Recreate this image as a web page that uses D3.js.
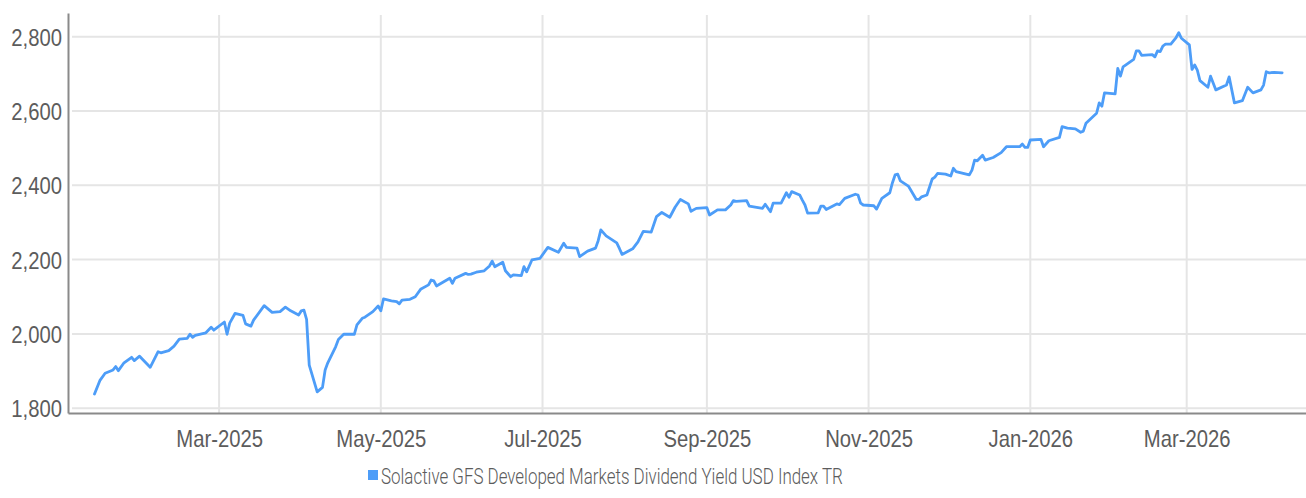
<!DOCTYPE html>
<html>
<head>
<meta charset="utf-8">
<script src="https://cdn.jsdelivr.net/npm/d3@7"></script>
<style>
  html, body { margin: 0; padding: 0; background: #fff; }
  svg { display: block; font-family: "Roboto", "Liberation Sans", sans-serif; font-weight: 300; }
</style>
</head>
<body>
<div id="chart"></div>
<script>
const seriesName = "Solactive GFS Developed Markets Dividend Yield USD Index TR";

const dates = [
  "2025-01-13", "2025-01-15", "2025-01-17", "2025-01-20", "2025-01-21", "2025-01-22", "2025-01-24",
  "2025-01-27", "2025-01-28", "2025-01-30", "2025-02-03", "2025-02-06", "2025-02-07", "2025-02-10",
  "2025-02-12", "2025-02-14", "2025-02-17", "2025-02-18", "2025-02-19", "2025-02-20", "2025-02-24",
  "2025-02-26", "2025-02-27", "2025-03-03", "2025-03-04", "2025-03-05", "2025-03-07", "2025-03-10",
  "2025-03-11", "2025-03-13", "2025-03-14", "2025-03-18", "2025-03-21", "2025-03-24", "2025-03-26",
  "2025-03-28", "2025-03-31", "2025-04-01", "2025-04-02", "2025-04-03", "2025-04-04", "2025-04-07",
  "2025-04-09", "2025-04-10", "2025-04-11", "2025-04-14", "2025-04-15", "2025-04-17", "2025-04-21",
  "2025-04-22", "2025-04-24", "2025-04-25", "2025-04-28", "2025-04-30", "2025-05-01", "2025-05-02",
  "2025-05-05", "2025-05-07", "2025-05-08", "2025-05-09", "2025-05-12", "2025-05-14", "2025-05-16",
  "2025-05-19", "2025-05-20", "2025-05-21", "2025-05-22", "2025-05-27", "2025-05-28", "2025-05-29",
  "2025-06-02", "2025-06-03", "2025-06-04", "2025-06-06", "2025-06-09", "2025-06-11", "2025-06-12",
  "2025-06-13", "2025-06-16", "2025-06-17", "2025-06-19", "2025-06-20", "2025-06-23", "2025-06-24",
  "2025-06-25", "2025-06-27", "2025-06-30", "2025-07-03", "2025-07-07", "2025-07-09", "2025-07-10",
  "2025-07-14", "2025-07-15", "2025-07-18", "2025-07-21", "2025-07-22", "2025-07-23", "2025-07-25",
  "2025-07-29", "2025-07-30", "2025-07-31", "2025-08-04", "2025-08-06", "2025-08-08", "2025-08-11",
  "2025-08-13", "2025-08-15", "2025-08-18", "2025-08-20", "2025-08-22", "2025-08-25", "2025-08-26",
  "2025-08-28", "2025-09-01", "2025-09-02", "2025-09-05", "2025-09-08", "2025-09-10", "2025-09-11",
  "2025-09-12", "2025-09-16", "2025-09-17", "2025-09-22", "2025-09-23", "2025-09-25", "2025-09-26",
  "2025-09-29", "2025-10-01", "2025-10-02", "2025-10-03", "2025-10-06", "2025-10-07", "2025-10-08",
  "2025-10-09", "2025-10-13", "2025-10-14", "2025-10-15", "2025-10-16", "2025-10-20", "2025-10-21",
  "2025-10-23", "2025-10-27", "2025-10-28", "2025-10-29", "2025-10-30", "2025-11-03", "2025-11-04",
  "2025-11-06", "2025-11-09", "2025-11-10", "2025-11-11", "2025-11-12", "2025-11-13", "2025-11-16",
  "2025-11-19", "2025-11-20", "2025-11-21", "2025-11-23", "2025-11-25", "2025-11-26", "2025-11-27",
  "2025-11-30", "2025-12-02", "2025-12-03", "2025-12-04", "2025-12-09", "2025-12-10", "2025-12-11",
  "2025-12-12", "2025-12-14", "2025-12-15", "2025-12-18", "2025-12-21", "2025-12-23", "2025-12-28",
  "2025-12-29", "2025-12-30", "2025-12-31", "2026-01-01", "2026-01-05", "2026-01-06", "2026-01-08",
  "2026-01-12", "2026-01-13", "2026-01-15", "2026-01-18", "2026-01-20", "2026-01-21", "2026-01-22",
  "2026-01-23", "2026-01-26", "2026-01-27", "2026-01-28", "2026-01-29", "2026-02-02", "2026-02-03",
  "2026-02-04", "2026-02-05", "2026-02-09", "2026-02-10", "2026-02-11", "2026-02-12", "2026-02-16",
  "2026-02-17", "2026-02-18", "2026-02-19", "2026-02-20", "2026-02-21", "2026-02-23", "2026-02-24",
  "2026-02-25", "2026-02-26", "2026-02-27", "2026-03-02", "2026-03-03", "2026-03-04", "2026-03-05",
  "2026-03-06", "2026-03-09", "2026-03-10", "2026-03-12", "2026-03-16", "2026-03-17", "2026-03-19",
  "2026-03-22", "2026-03-24", "2026-03-26", "2026-03-29", "2026-03-30", "2026-03-31", "2026-04-01",
  "2026-04-03", "2026-04-06"
];

const values = [
  1838, 1874, 1894, 1903, 1912, 1901, 1921,
  1937, 1928, 1940, 1910, 1952, 1949, 1955,
  1967, 1986, 1988, 1999, 1991, 1996, 2003,
  2018, 2010, 2032, 1999, 2029, 2055, 2050,
  2027, 2021, 2037, 2076, 2058, 2060, 2072,
  2062, 2051, 2062, 2064, 2039, 1916, 1844,
  1856, 1903, 1922, 1966, 1985, 1999, 1999,
  2024, 2042, 2045, 2060, 2075, 2062, 2094,
  2089, 2087, 2081, 2091, 2093, 2100, 2120,
  2132, 2145, 2143, 2129, 2150, 2136, 2150,
  2163, 2160, 2161, 2166, 2170, 2183, 2196,
  2181, 2193, 2170, 2154, 2159, 2157, 2181,
  2167, 2199, 2203, 2233, 2220, 2244, 2233,
  2231, 2208, 2223, 2231, 2251, 2280, 2264,
  2245, 2230, 2214, 2229, 2248, 2276, 2274,
  2316, 2327, 2314, 2341, 2362, 2350, 2330,
  2338, 2340, 2320, 2334, 2334, 2347, 2359,
  2357, 2359, 2344, 2338, 2349, 2329, 2352,
  2352, 2380, 2368, 2383, 2374, 2360, 2347,
  2325, 2326, 2344, 2344, 2335, 2350, 2348,
  2365, 2376, 2374, 2352, 2347, 2345, 2336,
  2365, 2380, 2407, 2428, 2430, 2412, 2398,
  2362, 2362, 2369, 2374, 2417, 2422, 2432,
  2430, 2425, 2446, 2437, 2428, 2441, 2468,
  2466, 2481, 2468, 2475, 2488, 2504, 2504,
  2511, 2502, 2502, 2522, 2524, 2504, 2520,
  2529, 2558, 2554, 2552, 2543, 2546, 2567,
  2574, 2594, 2622, 2613, 2649, 2646, 2715,
  2694, 2719, 2739, 2762, 2762, 2750, 2752,
  2746, 2762, 2760, 2775, 2780, 2780, 2789,
  2798, 2811, 2796, 2778, 2712, 2724, 2710,
  2682, 2664, 2694, 2657, 2670, 2692, 2622,
  2628, 2664, 2649, 2657, 2670, 2706, 2703,
  2704, 2703
];

const yTicks = [1800, 2000, 2200, 2400, 2600, 2800];
const xDomain = ["2025-01-03", "2026-04-15"];
const yDomain = [1787, 2864];

const width = 1306;
const height = 498;
const margin = { top: 13, right: 0, bottom: 85, left: 68 };
const lineColor = "#4d9df8";
const gridColor = "#e5e5e5";
const textColor = "#5c5c5c";

const parseDate = d3.utcParse("%Y-%m-%d");
const data = dates.map((d, i) => ({ date: parseDate(d), value: values[i] }));

const x = d3
  .scaleUtc()
  .domain(xDomain.map(parseDate))
  .range([margin.left, width - margin.right]);

const y = d3
  .scaleLinear()
  .domain(yDomain)
  .range([height - margin.bottom, margin.top]);

const svg = d3
  .select("#chart")
  .append("svg")
  .attr("width", width)
  .attr("height", height)
  .attr("viewBox", [0, 0, width, height]);

// the original face is a narrow one; squeeze a regular face to its width
function squeeze(sample, size, targetWidth) {
  const probe = svg.append("text").attr("font-size", size).text(sample);
  const k = targetWidth / probe.node().getComputedTextLength();
  probe.remove();
  return k;
}

const xTicks = x.ticks(d3.utcMonth.every(2));

// vertical grid
svg
  .append("g")
  .attr("stroke", gridColor)
  .attr("stroke-width", 2)
  .selectAll("line")
  .data(xTicks)
  .join("line")
  .attr("x1", (d) => x(d))
  .attr("x2", (d) => x(d))
  .attr("y1", margin.top + 2)
  .attr("y2", height - margin.bottom);

// horizontal grid
svg
  .append("g")
  .attr("stroke", gridColor)
  .attr("stroke-width", 2)
  .selectAll("line")
  .data(yTicks)
  .join("line")
  .attr("x1", margin.left + 4)
  .attr("x2", width - margin.right)
  .attr("y1", (d) => y(d))
  .attr("y2", (d) => y(d));

// axes
const yAxis = svg
  .append("g")
  .attr("transform", `translate(${margin.left},0)`)
  .call(
    d3.axisLeft(y).tickValues(yTicks).tickFormat(d3.format(",")).tickSize(0).tickPadding(6)
  );

const xAxis = svg
  .append("g")
  .attr("transform", `translate(0,${height - margin.bottom})`)
  .call(
    d3.axisBottom(x).tickValues(xTicks).tickFormat(d3.utcFormat("%b-%Y")).tickSize(0).tickPadding(17)
  );

[xAxis, yAxis].forEach((g) => {
  g.select(".domain").attr("stroke", "#8a8a8a").attr("stroke-width", 2);
  g.selectAll("text")
    .attr("fill", textColor)
    .attr("font-size", 24)
    .attr("font-family", null);
});
yAxis.selectAll("text").attr("dy", "0.36em");
xAxis.selectAll("text").attr("dy", "0.71em");

const k = squeeze("Mar-2025", 24, 86);
xAxis.selectAll("text").attr("transform", `scale(${k},1)`);
yAxis.selectAll("text").attr("transform", `scale(${k},1)`).attr("x", -6 / k);

// series
const line = d3
  .line()
  .x((d) => x(d.date))
  .y((d) => y(d.value));

svg
  .append("path")
  .datum(data)
  .attr("fill", "none")
  .attr("stroke", lineColor)
  .attr("stroke-width", 2.8)
  .attr("stroke-linejoin", "round")
  .attr("stroke-linecap", "round")
  .attr("d", line);

// legend
const legend = svg.append("g").attr("transform", "translate(381,484)");
const kLegend = squeeze(seriesName, 22, 462);

legend
  .append("text")
  .attr("fill", textColor)
  .attr("font-size", 22)
  .attr("transform", `scale(${kLegend},1)`)
  .text(seriesName);

legend
  .append("rect")
  .attr("x", -13)
  .attr("y", -14)
  .attr("width", 10)
  .attr("height", 10)
  .attr("fill", lineColor);
</script>
</body>
</html>
